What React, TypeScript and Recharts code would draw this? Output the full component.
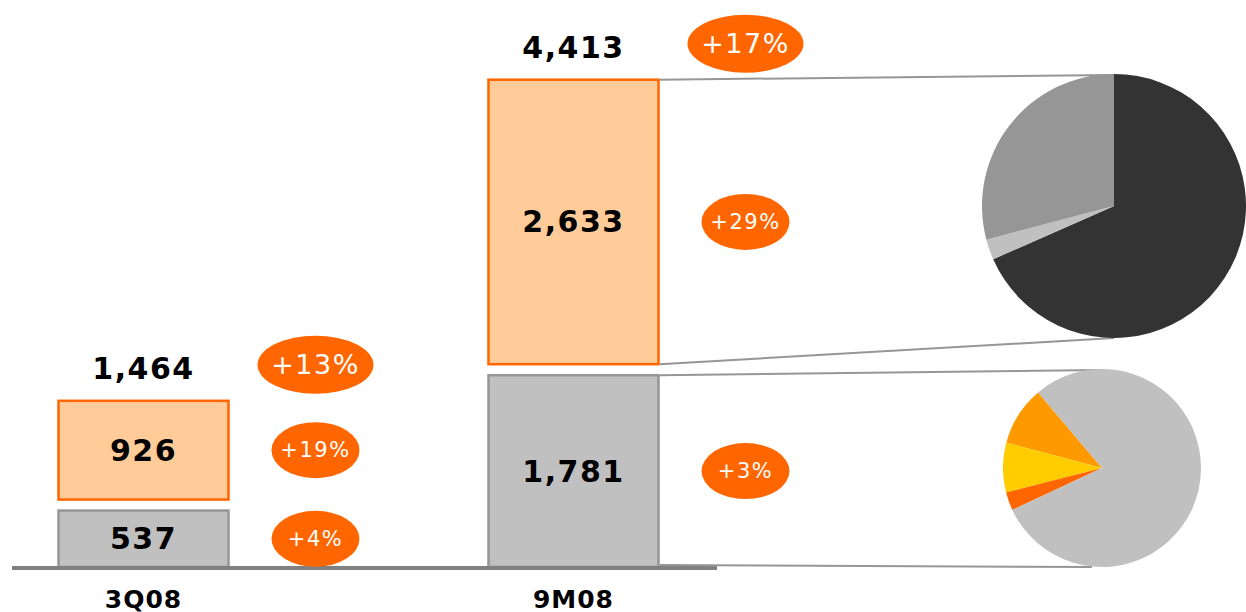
import React from 'react';
import { BarChart, Bar, XAxis, YAxis, LabelList, ReferenceLine, PieChart, Pie, Cell } from 'recharts';

const periods = ['3Q08', '9M08'];
const baseValues = [537, 1781];
const topValues = [926, 2633];
const totals = [1464, 4413];
const baseGrowth = ['+4%', '+3%'];
const topGrowth = ['+19%', '+29%'];
const totalGrowth = ['+13%', '+17%'];

const upperPieShares = [68.4, 2.5, 29.1];
const lowerPieShares = [9.7, 8.1, 3.0, 79.2];

const data = periods.map((p, i) => ({ pos: i, period: p, base: baseValues[i], top: topValues[i] }));
const upperPie = upperPieShares.map((v, i) => ({ name: 'u' + i, value: v }));
const lowerPie = lowerPieShares.map((v, i) => ({ name: 'l' + i, value: v }));

const FONT = '"DejaVu Sans", Verdana, sans-serif';
const ORANGE = '#FF6600';
const LINE = '#969696';
const GAP = 9;
const upperColors = ['#333333', '#C0C0C0', '#969696'];
const lowerColors = ['#FF9900', '#FFCC00', '#FF6600', '#C0C0C0'];
const UPPER = { left: 982, top: 74, r: 132 };
const LOWER = { left: 1003, top: 369, r: 99 };

const fmt = (n: number) => n.toLocaleString('en-US');

const box = (p: any) => {
  const v = p.viewBox && p.viewBox.width != null ? p.viewBox : p;
  return { x: Number(v.x), y: Number(v.y), w: Number(v.width), h: Number(v.height) };
};

const Badge = ({ cx, cy, rx, ry, text, size }: any) => (
  <g>
    <ellipse cx={cx} cy={cy} rx={rx} ry={ry} fill={ORANGE} />
    <text x={cx} y={cy} textAnchor="middle" dominantBaseline="central" fill="#fff" fontFamily={FONT} fontSize={size} letterSpacing={1.5}>
      {text}
    </text>
  </g>
);

const Value = ({ x, y, text, size = 30 }: any) => (
  <text x={x} y={y} textAnchor="middle" dominantBaseline="central" fill="#000" fontFamily={FONT} fontWeight="bold" fontSize={size} letterSpacing={1.5}>
    {text}
  </text>
);

const renderBaseLabel = (p: any) => {
  const { x, y, w, h } = box(p);
  const i = p.index ?? (x > 300 ? 1 : 0);
  const cx = LOWER.left + LOWER.r;
  return (
    <g>
      {i === 1 && (
        <g stroke={LINE} strokeWidth={2}>
          <line x1={x + w} y1={y + 1} x2={cx} y2={LOWER.top + 1} />
          <line x1={x + w} y1={y + h - 3} x2={cx - 10} y2={LOWER.top + 2 * LOWER.r} />
        </g>
      )}
      <Value x={x + w / 2} y={y + h / 2} text={fmt(baseValues[i])} />
      <Badge cx={x + w + 86} cy={y + h / 2} rx={44} ry={28} text={baseGrowth[i]} size={21} />
    </g>
  );
};

const renderTopLabel = (p: any) => {
  const { x, y, w, h } = box(p);
  const i = p.index ?? (x > 300 ? 1 : 0);
  const top = y - GAP;
  const totalY = top - 31;
  const cx = UPPER.left + UPPER.r;
  return (
    <g>
      {i === 1 && (
        <g stroke={LINE} strokeWidth={2}>
          <line x1={x + w} y1={top + 1} x2={cx} y2={UPPER.top + 1} />
          <line x1={x + w} y1={top + h - 1} x2={cx} y2={UPPER.top + 2 * UPPER.r} />
        </g>
      )}
      <Value x={x + w / 2} y={top + h / 2} text={fmt(topValues[i])} />
      <Badge cx={x + w + 86} cy={top + h / 2} rx={44} ry={28} text={topGrowth[i]} size={21} />
      <Value x={x + w / 2} y={totalY} text={fmt(totals[i])} />
      <Badge cx={x + w + 86} cy={totalY - 4} rx={58} ry={29} text={totalGrowth[i]} size={27} />
    </g>
  );
};

const BaseShape = (p: any) => (
  <rect x={p.x + 1} y={p.y + 1} width={p.width - 2} height={p.height - 2} fill="#C0C0C0" stroke="#969696" strokeWidth={2.5} />
);

const TopShape = (p: any) => (
  <rect x={p.x + 1} y={p.y - GAP + 1} width={p.width - 2} height={p.height - 2} fill="#FFCC99" stroke={ORANGE} strokeWidth={2.5} />
);

const PeriodTick = (p: any) => (
  <text x={p.x} y={599} textAnchor="middle" dominantBaseline="central" fill="#000" fontFamily={FONT} fontWeight="bold" fontSize={25} letterSpacing={1}>
    {periods[p.payload.value]}
  </text>
);

export default function App() {
  return (
    <div style={{ position: 'absolute', left: 0, top: 0, width: 1246, height: 612, background: '#fff' }}>
      <BarChart width={1246} height={612} data={data} margin={{ top: 0, right: 0, bottom: 0, left: 0 }}>
        <XAxis
          dataKey="pos"
          type="number"
          domain={[-0.33372, 2.56395]}
          allowDataOverflow
          ticks={[0, 1]}
          axisLine={false}
          tickLine={false}
          height={44}
          tick={PeriodTick}
        />
        <YAxis hide type="number" domain={[0, 5220]} allowDataOverflow />
        <Bar dataKey="base" stackId="s" barSize={172} shape={BaseShape} isAnimationActive={false}>
          <LabelList dataKey="base" content={renderBaseLabel} />
        </Bar>
        <Bar dataKey="top" stackId="s" barSize={172} shape={TopShape} isAnimationActive={false}>
          <LabelList dataKey="top" content={renderTopLabel} />
        </Bar>
        <ReferenceLine
          segment={[{ x: -0.3058, y: 0 }, { x: 1.3337, y: 0 }]}
          stroke="#808080"
          strokeWidth={4}
          ifOverflow="visible"
        />
      </BarChart>
      <div style={{ position: 'absolute', left: UPPER.left, top: UPPER.top }}>
        <PieChart width={UPPER.r * 2} height={UPPER.r * 2} margin={{ top: 0, right: 0, bottom: 0, left: 0 }}>
          <Pie data={upperPie} dataKey="value" cx="50%" cy="50%" outerRadius={UPPER.r} startAngle={90} endAngle={-270} stroke="none" isAnimationActive={false}>
            {upperPie.map((d, i) => (
              <Cell key={d.name} fill={upperColors[i]} stroke="none" />
            ))}
          </Pie>
        </PieChart>
      </div>
      <div style={{ position: 'absolute', left: LOWER.left, top: LOWER.top }}>
        <PieChart width={LOWER.r * 2} height={LOWER.r * 2} margin={{ top: 0, right: 0, bottom: 0, left: 0 }}>
          <Pie data={lowerPie} dataKey="value" cx="50%" cy="50%" outerRadius={LOWER.r} startAngle={130.2} endAngle={490.2} stroke="none" isAnimationActive={false}>
            {lowerPie.map((d, i) => (
              <Cell key={d.name} fill={lowerColors[i]} stroke="none" />
            ))}
          </Pie>
        </PieChart>
      </div>
    </div>
  );
}
